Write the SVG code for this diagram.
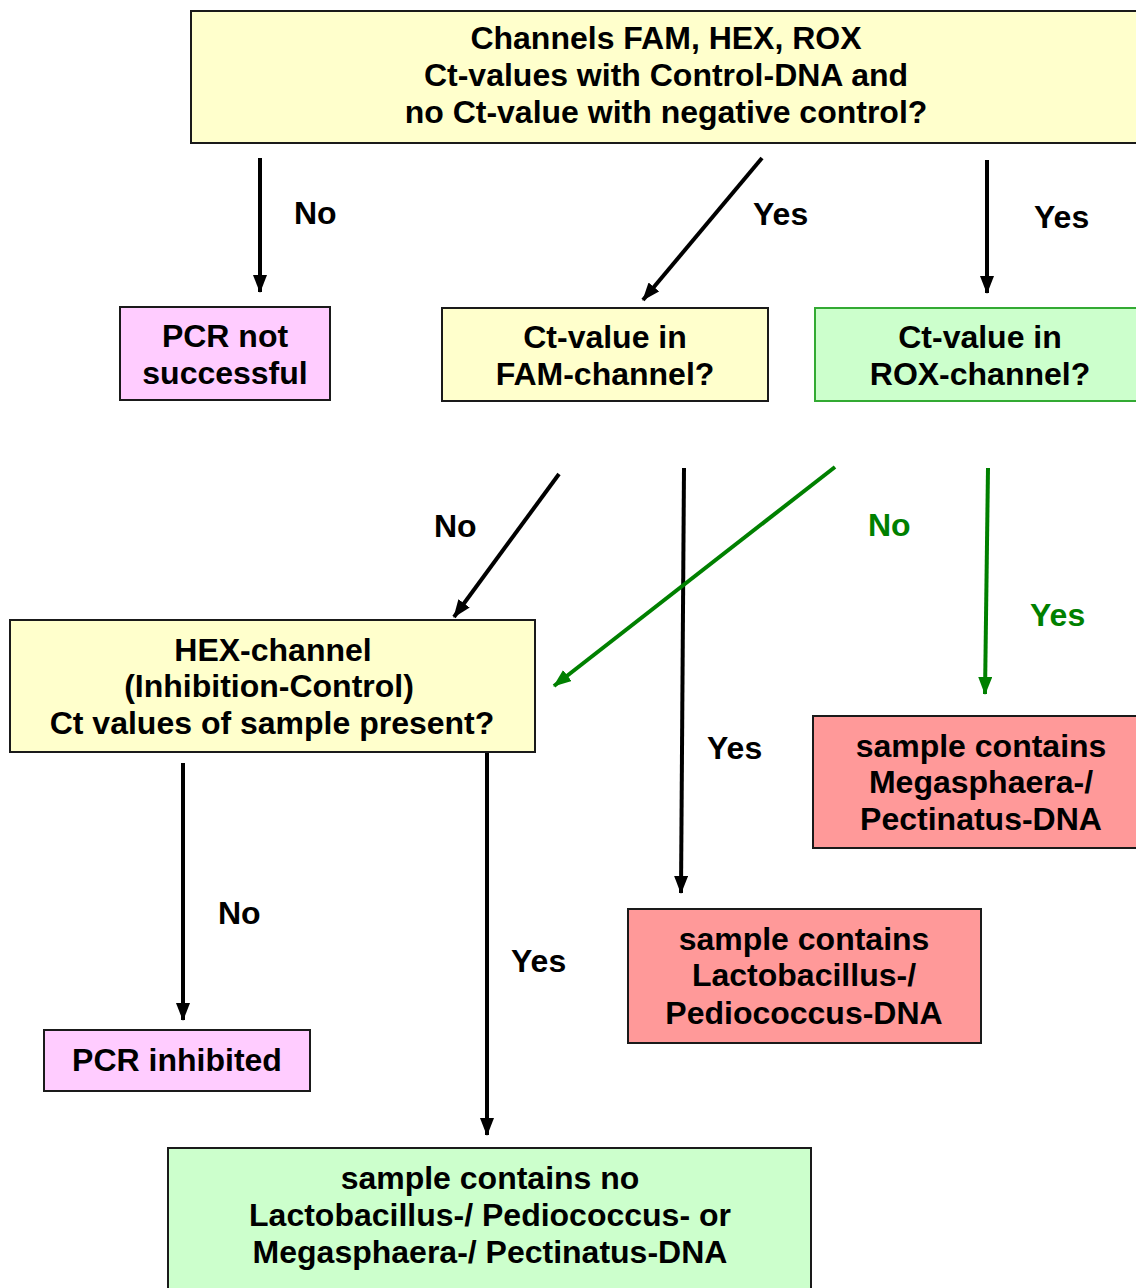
<svg xmlns="http://www.w3.org/2000/svg" width="1136" height="1288" viewBox="0 0 1136 1288">
<style>
.box{stroke:#1a1a1a;stroke-width:2}
.y{fill:#FFFFCC}.p{fill:#FFCCFF}.g{fill:#CCFFCC}.r{fill:#FF9999}
text{font-family:"Liberation Sans",Arial,sans-serif;font-weight:bold;font-size:32px;fill:#000;text-anchor:middle}
.lbl{text-anchor:start}
.gl{fill:#008000}
.k{stroke:#000;stroke-width:4;fill:none}
.gr{stroke:#008000;stroke-width:4;fill:none}
</style>
<defs>
<marker id="ah" markerUnits="userSpaceOnUse" viewBox="0 0 18 14" refX="17" refY="7" markerWidth="18" markerHeight="14" orient="auto"><path d="M0,0 L18,7 L0,14 Z" fill="#000"/></marker>
<marker id="ahg" markerUnits="userSpaceOnUse" viewBox="0 0 18 14" refX="17" refY="7" markerWidth="18" markerHeight="14" orient="auto"><path d="M0,0 L18,7 L0,14 Z" fill="#008000"/></marker>
</defs>
<rect width="1136" height="1288" fill="#fff"/>
<g id="connectors">
<line class="k" x1="260" y1="158" x2="260" y2="292" marker-end="url(#ah)"/>
<line class="k" x1="762" y1="158" x2="643" y2="300" marker-end="url(#ah)"/>
<line class="k" x1="987" y1="160" x2="987" y2="293" marker-end="url(#ah)"/>
<line class="k" x1="559" y1="474" x2="454" y2="617" marker-end="url(#ah)"/>
<line class="k" x1="684" y1="468" x2="681" y2="893" marker-end="url(#ah)"/>
<line class="gr" x1="835" y1="467" x2="554" y2="686" marker-end="url(#ahg)"/>
<line class="gr" x1="988" y1="468" x2="985" y2="694" marker-end="url(#ahg)"/>
<line class="k" x1="183" y1="763" x2="183" y2="1020" marker-end="url(#ah)"/>
<line class="k" x1="487" y1="753" x2="487" y2="1135" marker-end="url(#ah)"/>
<text class="lbl" x="294" y="224">No</text>
<text class="lbl" x="753" y="225">Yes</text>
<text class="lbl" x="1034" y="228">Yes</text>
<text class="lbl" x="434" y="537">No</text>
<text class="lbl gl" x="868" y="536">No</text>
<text class="lbl gl" x="1030" y="626">Yes</text>
<text class="lbl" x="707" y="759">Yes</text>
<text class="lbl" x="218" y="924">No</text>
<text class="lbl" x="511" y="972">Yes</text>
</g>
<g id="n-start">
<rect class="box y" x="191" y="11" width="960" height="132"/>
<text x="666" y="49">Channels FAM, HEX, ROX</text>
<text x="666" y="86">Ct-values with Control-DNA and</text>
<text x="666" y="123">no Ct-value with negative control?</text>
</g>
<g id="n-pcr-not">
<rect class="box p" x="120" y="307" width="210" height="93"/>
<text x="225" y="347">PCR not</text>
<text x="225" y="384">successful</text>
</g>
<g id="n-fam">
<rect class="box y" x="442" y="308" width="326" height="93"/>
<text x="605" y="348">Ct-value in</text>
<text x="605" y="385">FAM-channel?</text>
</g>
<g id="n-rox">
<rect x="815" y="308" width="340" height="93" fill="#CCFFCC" stroke="#33AA33" stroke-width="2"/>
<text x="980" y="348">Ct-value in</text>
<text x="980" y="385">ROX-channel?</text>
</g>
<g id="n-hex">
<rect class="box y" x="10" y="620" width="525" height="132"/>
<text x="273" y="661">HEX-channel</text>
<text x="269" y="697">(Inhibition-Control)</text>
<text x="272" y="734">Ct values of sample present?</text>
</g>
<g id="n-mega">
<rect class="box r" x="813" y="716" width="340" height="132"/>
<text x="981" y="757">sample contains</text>
<text x="981" y="793">Megasphaera-/</text>
<text x="981" y="830">Pectinatus-DNA</text>
</g>
<g id="n-lacto">
<rect class="box r" x="628" y="909" width="353" height="134"/>
<text x="804" y="950">sample contains</text>
<text x="804" y="986">Lactobacillus-/</text>
<text x="804" y="1024">Pediococcus-DNA</text>
</g>
<g id="n-inhibited">
<rect class="box p" x="44" y="1030" width="266" height="61"/>
<text x="177" y="1071">PCR inhibited</text>
</g>
<g id="n-none">
<rect class="box g" x="168" y="1148" width="643" height="150"/>
<text x="490" y="1189">sample contains no</text>
<text x="490" y="1226">Lactobacillus-/ Pediococcus- or</text>
<text x="490" y="1263">Megasphaera-/ Pectinatus-DNA</text>
</g>
</svg>
